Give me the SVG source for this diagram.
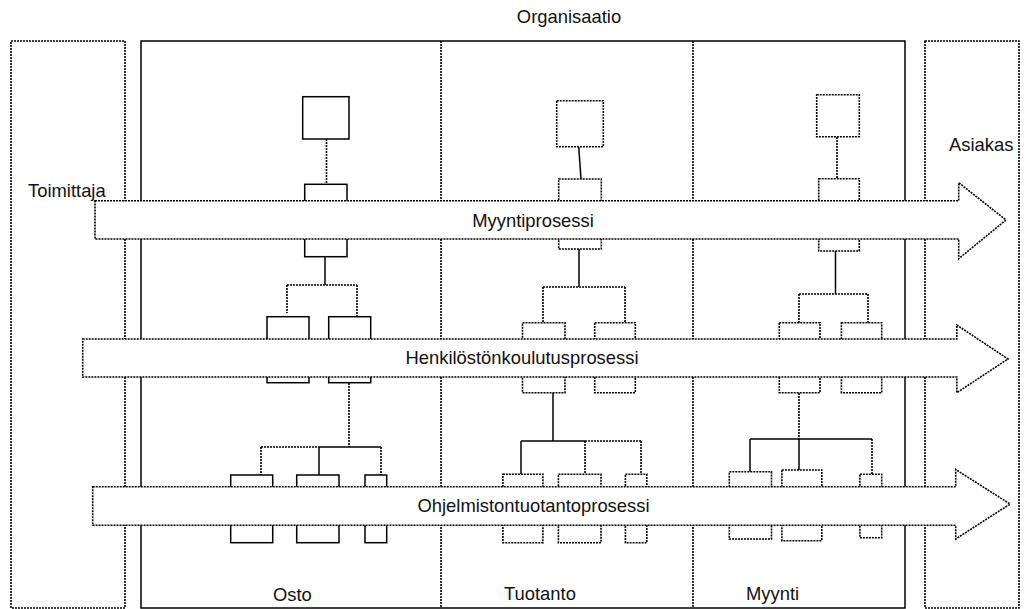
<svg xmlns="http://www.w3.org/2000/svg" width="1029" height="609" viewBox="0 0 1029 609">
  <style>
    .solid { fill: none; stroke: #000; stroke-width: 1.5; }
    .dot { fill: none; stroke: #000; stroke-width: 1.6; stroke-dasharray: 2 1; }
    .box { fill: #fff; }
    .proc { fill: #fff; stroke: #000; stroke-width: 1.6; stroke-dasharray: 2 1; }
    text { font-family: "Liberation Sans", Arial, sans-serif; font-size: 18.4px; fill: #111; }
    .mid { text-anchor: middle; }
  </style>

  <rect width="1029" height="609" fill="#fff"/>

  <!-- Outer frames -->
  <g id="toimittaja">
    <rect class="dot" x="11" y="41" width="114" height="567"/>
  </g>
  <g id="organisaatio">
    <rect class="solid" x="141" y="41" width="764" height="567"/>
    <line class="dot" x1="441" y1="41" x2="441" y2="608"/>
    <line class="dot" x1="693" y1="41" x2="693" y2="608"/>
  </g>
  <g id="asiakas">
    <rect class="dot" x="925" y="41" width="94" height="567"/>
  </g>

  <!-- Connectors -->
  <g id="connectors">
    <!-- Osto -->
    <line class="dot" x1="326.5" y1="139" x2="326.5" y2="184"/>
    <line class="solid" x1="325" y1="254" x2="325" y2="285"/>
    <line class="dot" x1="287" y1="285" x2="357" y2="285"/>
    <line class="dot" x1="287" y1="285" x2="287" y2="313"/>
    <line class="dot" x1="357" y1="285" x2="357" y2="319"/>
    <line class="dot" x1="349" y1="383" x2="349" y2="447"/>
    <line class="dot" x1="261" y1="447" x2="319" y2="447"/>
    <line class="solid" x1="319" y1="447" x2="381" y2="447"/>
    <line class="dot" x1="261" y1="447" x2="261" y2="475"/>
    <line class="solid" x1="319" y1="447" x2="319" y2="475"/>
    <line class="dot" x1="381" y1="447" x2="381" y2="475"/>

    <!-- Tuotanto -->
    <line class="solid" x1="578.7" y1="146.7" x2="581" y2="179"/>
    <line class="solid" x1="579" y1="249" x2="579" y2="287"/>
    <line class="dot" x1="543" y1="287" x2="625" y2="287"/>
    <line class="dot" x1="543" y1="287" x2="543" y2="323"/>
    <line class="dot" x1="625" y1="287" x2="625" y2="323"/>
    <line class="solid" x1="553" y1="393" x2="553" y2="441"/>
    <line class="solid" x1="521" y1="441" x2="585" y2="441"/>
    <line class="dot" x1="585" y1="441" x2="641" y2="441"/>
    <line class="solid" x1="521" y1="441" x2="521" y2="474"/>
    <line class="dot" x1="585" y1="441" x2="585" y2="474"/>
    <line class="dot" x1="641" y1="441" x2="641" y2="474"/>

    <!-- Myynti -->
    <line class="dot" x1="837" y1="137" x2="837" y2="179"/>
    <line class="solid" x1="835.5" y1="251" x2="835.5" y2="294"/>
    <line class="dot" x1="799" y1="294" x2="868" y2="294"/>
    <line class="dot" x1="799" y1="294" x2="799" y2="323"/>
    <line class="dot" x1="868" y1="294" x2="868" y2="323"/>
    <line class="dot" x1="799" y1="393" x2="799" y2="439"/>
    <line class="solid" x1="750" y1="439" x2="872" y2="439"/>
    <line class="solid" x1="750" y1="439" x2="750" y2="472"/>
    <line class="solid" x1="799" y1="439" x2="799" y2="470"/>
    <line class="dot" x1="872" y1="439" x2="872" y2="474"/>
  </g>

  <!-- Osto units -->
  <g id="osto-johto"><rect class="solid box" x="302.7" y="96.7" width="46.3" height="42.3"/></g>
  <g id="osto-1"><rect class="solid box" x="304.7" y="184.3" width="42.3" height="72.4"/></g>
  <g id="osto-2a"><rect class="solid box" x="267" y="316.7" width="42" height="66"/></g>
  <g id="osto-2b"><rect class="solid box" x="328.7" y="316.7" width="42" height="66"/></g>
  <g id="osto-3a"><rect class="solid box" x="230.7" y="475" width="42" height="67.7"/></g>
  <g id="osto-3b"><rect class="solid box" x="296.7" y="475" width="42.3" height="67.7"/></g>
  <g id="osto-3c"><rect class="solid box" x="365" y="475" width="21.7" height="67.7"/></g>

  <!-- Tuotanto units -->
  <g id="tuotanto-johto"><rect class="dot box" x="556.7" y="100.7" width="46.6" height="46"/></g>
  <g id="tuotanto-1"><rect class="dot box" x="558.7" y="179" width="42.6" height="70"/></g>
  <g id="tuotanto-2a"><rect class="dot box" x="522.5" y="322.7" width="42.5" height="70"/></g>
  <g id="tuotanto-2b"><rect class="dot box" x="594.7" y="322.7" width="40.6" height="70"/></g>
  <g id="tuotanto-3a"><rect class="dot box" x="502.9" y="474.3" width="40" height="68.4"/></g>
  <g id="tuotanto-3b"><rect class="dot box" x="558.4" y="474.3" width="42.6" height="68.4"/></g>
  <g id="tuotanto-3c"><rect class="dot box" x="625.4" y="474.3" width="21.4" height="68.4"/></g>

  <!-- Myynti units -->
  <g id="myynti-johto"><rect class="dot box" x="816.7" y="94.7" width="42.6" height="42"/></g>
  <g id="myynti-1"><rect class="dot box" x="818.7" y="178.7" width="40.6" height="72.3"/></g>
  <g id="myynti-2a"><rect class="dot box" x="779.3" y="322.7" width="40.7" height="70"/></g>
  <g id="myynti-2b"><rect class="dot box" x="841.4" y="322.7" width="40.3" height="70"/></g>
  <g id="myynti-3a"><rect class="dot box" x="729.3" y="471.7" width="42.2" height="67.3"/></g>
  <g id="myynti-3b"><rect class="dot box" x="781.9" y="470" width="39.9" height="70.7"/></g>
  <g id="myynti-3c"><rect class="dot box" x="859.9" y="474.3" width="21.8" height="63.4"/></g>

  <!-- Processes crossing the organisation -->
  <g id="myyntiprosessi">
    <path class="proc" d="M95,200.7 H958.7 V182.7 L1006,220 L958.7,258.7 V239 H95 Z"/>
    <text class="mid" x="533" y="226.7">Myyntiprosessi</text>
  </g>
  <g id="henkilostonkoulutusprosessi">
    <path class="proc" d="M82.7,339 H956.8 V325 L1008,359 L956.8,392.7 V377 H82.7 Z"/>
    <text class="mid" x="522" y="364.3">Henkilöstönkoulutusprosessi</text>
  </g>
  <g id="ohjelmistontuotantoprosessi">
    <path class="proc" d="M92.7,486.7 H955.7 V469.5 L1010,504 L955.7,539 V525.3 H92.7 Z"/>
    <text class="mid" x="533.5" y="511.7">Ohjelmistontuotantoprosessi</text>
  </g>

  <!-- Labels -->
  <g id="labels">
    <text class="mid" x="569" y="23">Organisaatio</text>
    <text x="28" y="197">Toimittaja</text>
    <text x="949" y="151">Asiakas</text>
    <text x="273" y="601">Osto</text>
    <text x="504" y="600">Tuotanto</text>
    <text x="746" y="600">Myynti</text>
  </g>
</svg>
